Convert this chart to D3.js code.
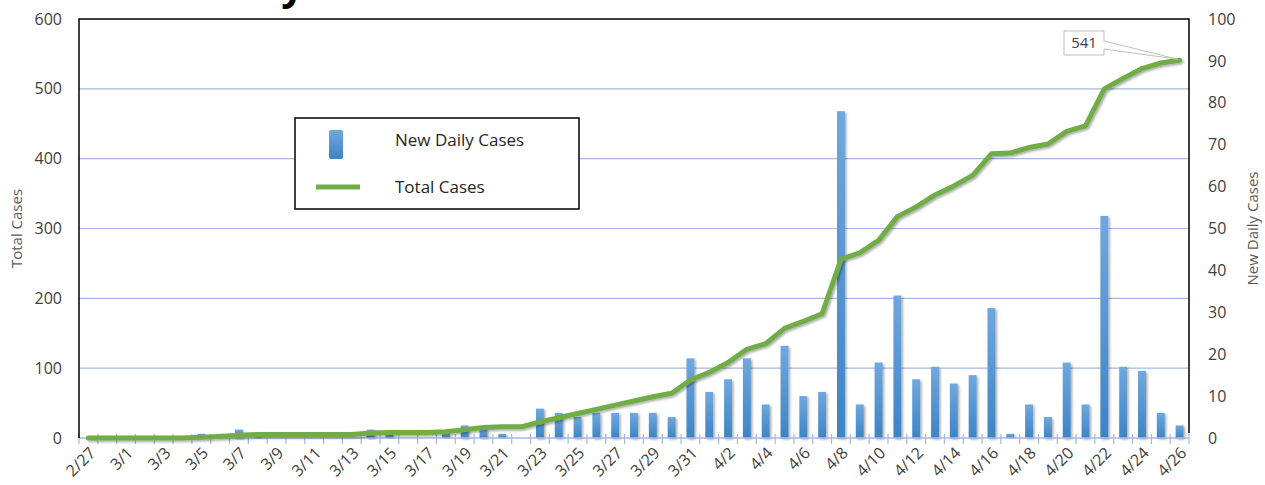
<!DOCTYPE html>
<html>
<head>
<meta charset="utf-8">
<script src="https://cdn.jsdelivr.net/npm/d3@7"></script>
<style>
	body { margin: 0; background: #fff; }
	svg { display: block; font-family: "Open Sans", sans-serif; }
	.tick-label { fill: #404040; font-size: 16px; }
	.axis-title { fill: #595959; font-size: 15px; }
	.legend-text { fill: #262626; font-size: 17px; }
</style>
</head>
<body>
<svg class="chart" width="1265" height="485"></svg>
<script>
(function() {

	// DATA
	var dates = ['2/27','2/28','3/1','3/2','3/3','3/4','3/5','3/6','3/7','3/8','3/9','3/10','3/11','3/12','3/13','3/14','3/15','3/16','3/17','3/18','3/19','3/20','3/21','3/22','3/23','3/24','3/25','3/26','3/27','3/28','3/29','3/30','3/31','4/1','4/2','4/3','4/4','4/5','4/6','4/7','4/8','4/9','4/10','4/11','4/12','4/13','4/14','4/15','4/16','4/17','4/18','4/19','4/20','4/21','4/22','4/23','4/24','4/25','4/26'];

	var newDaily = [0,0,0,0,0,0,1,1,2,1,0,0,0,0,0,2,1,0,0,1,3,2,1,0,7,6,5,6,6,6,6,5,19,11,14,19,8,22,10,11,78,8,18,34,14,17,13,15,31,1,8,5,18,8,53,17,16,6,3];

	var totalCases = [0,0,0,0,0,0,1,2,4,5,5,5,5,5,5,7,8,8,8,9,12,15,16,16,23,29,35,41,47,53,59,64,83,94,108,127,135,157,167,178,256,265,283,317,331,348,361,376,407,408,416,421,439,447,500,515,529,537,541];

	var leftTicks = [0,100,200,300,400,500,600];
	var rightTicks = [0,10,20,30,40,50,60,70,80,90,100];

	// LAYOUT
	var margin = {top: 19, left: 79, right: 76, bottom: 47};
	var svg = d3.select('.chart');
	var W = +svg.attr('width'), H = +svg.attr('height');
	var x0 = margin.left, x1 = W - margin.right;
	var y0 = H - margin.bottom, y1 = margin.top;

	var scales = {};
	scales.x = d3.scaleBand().domain(dates).range([x0, x1]);
	scales.yL = d3.scaleLinear().domain([0, 600]).range([y0, y1]);
	scales.yR = d3.scaleLinear().domain([0, 100]).range([y0, y1]);

	var defs = svg.append('defs');
	var grad = defs.append('linearGradient')
		.attr('id', 'barGrad')
		.attr('x1', 0).attr('y1', 0).attr('x2', 0).attr('y2', 1);
	grad.append('stop').attr('offset', '0%').attr('stop-color', '#6FA8DD');
	grad.append('stop').attr('offset', '100%').attr('stop-color', '#3D84C6');

	var shadow = defs.append('filter').attr('id', 'shadow')
		.attr('x', '-50%').attr('y', '-10%').attr('width', '200%').attr('height', '130%');
	shadow.append('feDropShadow')
		.attr('dx', 1.5).attr('dy', 1.5).attr('stdDeviation', 1.2)
		.attr('flood-color', '#000').attr('flood-opacity', 0.35);

	// title, cut off above the picture (only the descender shows)
	svg.append('text')
		.attr('x', 304).attr('y', 0)
		.attr('text-anchor', 'end')
		.style('font-size', '40px').style('font-weight', 'bold').style('fill', '#000')
		.text('Daily');

	// gridlines
	svg.append('g').selectAll('line')
		.data(leftTicks.filter(function(d) { return d > 0 && d < 600; }))
		.enter().append('line')
		.attr('x1', x0).attr('x2', x1)
		.attr('y1', function(d) { return scales.yL(d); })
		.attr('y2', function(d) { return scales.yL(d); })
		.attr('stroke', '#A5B9E2').attr('stroke-width', 1.2);

	// bars
	var bw = scales.x.bandwidth() * 0.42;
	svg.append('g').selectAll('rect')
		.data(newDaily)
		.enter().append('rect')
		.attr('x', function(d, i) { return scales.x(dates[i]) + scales.x.bandwidth() / 2 - bw / 2; })
		.attr('y', function(d) { return scales.yR(d); })
		.attr('width', bw)
		.attr('height', function(d) { return y0 - scales.yR(d); })
		.attr('fill', 'url(#barGrad)')
		.attr('filter', 'url(#shadow)');

	// x axis line and ticks
	var xa = svg.append('g');
	xa.append('line')
		.attr('x1', x0).attr('x2', x1).attr('y1', y0).attr('y2', y0)
		.attr('stroke', '#A5B9E2').attr('stroke-width', 1.5);
	xa.selectAll('.tk')
		.data(d3.range(dates.length + 1))
		.enter().append('line')
		.attr('class', 'tk')
		.attr('x1', function(i) { return x0 + i * scales.x.step(); })
		.attr('x2', function(i) { return x0 + i * scales.x.step(); })
		.attr('y1', y0 - 4).attr('y2', y0 + 6)
		.attr('stroke', '#A5B9E2').attr('stroke-width', 1.2);
	xa.selectAll('text')
		.data(dates.filter(function(d, i) { return i % 2 === 0; }))
		.enter().append('text')
		.attr('class', 'tick-label')
		.attr('text-anchor', 'end')
		.attr('transform', function(d) {
			var cx = scales.x(d) + scales.x.bandwidth() / 2 + 4;
			return 'translate(' + cx + ',' + (y0 + 12) + ') rotate(-45)';
		})
		.attr('dy', '0.35em')
		.text(function(d) { return d; });

	// total cases line
	var line = d3.line()
		.x(function(d, i) { return scales.x(dates[i]) + scales.x.bandwidth() / 2; })
		.y(function(d) { return scales.yL(d); });
	svg.append('path')
		.datum(totalCases)
		.attr('d', line)
		.attr('fill', 'none')
		.attr('stroke', '#70AD47')
		.attr('stroke-width', 5)
		.attr('stroke-linejoin', 'round')
		.attr('stroke-linecap', 'round')
		.attr('filter', 'url(#shadow)');

	// plot border (left, top, right)
	svg.append('path')
		.attr('d', 'M' + x0 + ',' + y0 + 'V' + y1 + 'H' + x1 + 'V' + (y0 - 5))
		.attr('fill', 'none').attr('stroke', '#000').attr('stroke-width', 1.5);

	// left axis labels
	svg.append('g').selectAll('text')
		.data(leftTicks)
		.enter().append('text')
		.attr('class', 'tick-label')
		.attr('text-anchor', 'end')
		.attr('x', 62)
		.attr('y', function(d) { return scales.yL(d); })
		.attr('dy', '0.35em')
		.text(function(d) { return d; });

	// right axis labels
	svg.append('g').selectAll('text')
		.data(rightTicks)
		.enter().append('text')
		.attr('class', 'tick-label')
		.attr('x', 1208)
		.attr('y', function(d) { return scales.yR(d); })
		.attr('dy', '0.35em')
		.text(function(d) { return d; });

	// axis titles
	svg.append('text').attr('class', 'axis-title')
		.attr('text-anchor', 'middle')
		.attr('transform', 'translate(22,' + ((y0 + y1) / 2) + ') rotate(-90)')
		.text('Total Cases');
	svg.append('text').attr('class', 'axis-title')
		.attr('text-anchor', 'middle')
		.attr('transform', 'translate(1258,' + ((y0 + y1) / 2) + ') rotate(-90)')
		.text('New Daily Cases');

	// legend
	var lg = svg.append('g').attr('transform', 'translate(295,118)');
	lg.append('rect').attr('width', 284).attr('height', 91)
		.attr('fill', '#fff').attr('stroke', '#000').attr('stroke-width', 1.5);
	lg.append('rect').attr('x', 34).attr('y', 12).attr('width', 14).attr('height', 29)
		.attr('rx', 2).attr('fill', 'url(#barGrad)');
	lg.append('line').attr('x1', 21).attr('x2', 65).attr('y1', 69).attr('y2', 69)
		.attr('stroke', '#70AD47').attr('stroke-width', 5);
	lg.append('text').attr('class', 'legend-text').attr('x', 100).attr('y', 22).attr('dy', '0.35em')
		.text('New Daily Cases');
	lg.append('text').attr('class', 'legend-text').attr('x', 100).attr('y', 69).attr('dy', '0.35em')
		.text('Total Cases');

	// data label on last point
	var lastX = scales.x(dates[dates.length - 1]) + scales.x.bandwidth() / 2;
	var lastY = scales.yL(totalCases[totalCases.length - 1]);
	var call = svg.append('g');
	call.append('path')
		.attr('d', 'M1064,31H1104V41L' + (lastX - 2) + ',' + (lastY - 1) + 'L1104,49V55H1064Z')
		.attr('fill', '#fff').attr('stroke', '#BFBFBF').attr('stroke-width', 1);
	call.append('text')
		.attr('x', 1084).attr('y', 43).attr('dy', '0.35em')
		.attr('text-anchor', 'middle')
		.style('font-size', '15px').style('fill', '#404040')
		.text(totalCases[totalCases.length - 1]);

})();
</script>
</body>
</html>
